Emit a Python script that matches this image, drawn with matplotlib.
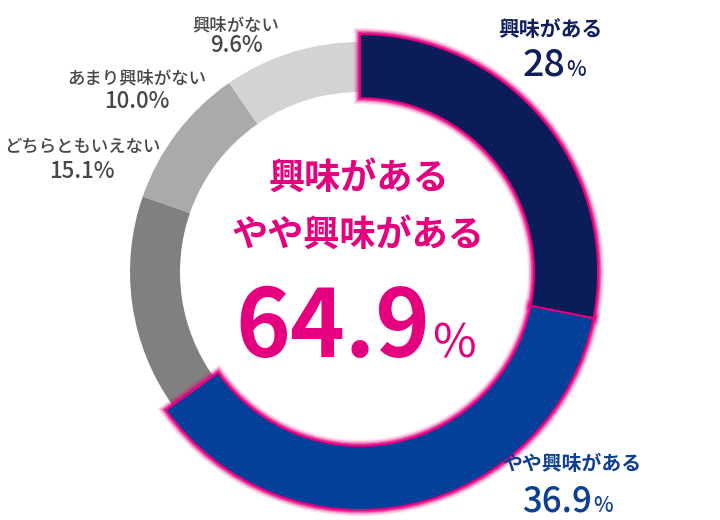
import matplotlib.pyplot as plt
from matplotlib.patches import Wedge

plt.rcParams['font.family'] = ['Noto Sans CJK JP', 'DejaVu Sans']

# answers, clockwise from 12 o'clock
labels = ["興味がある", "やや興味がある", "どちらともいえない", "あまり興味がない", "興味がない"]
values = [28.0, 36.9, 15.1, 10.0, 9.6]
value_texts = ["28", "36.9", "15.1", "10.0", "9.6"]
colors = ["#0b1c5a", "#044099", "#808080", "#aaaaaa", "#d3d3d3"]
highlight = [0, 1]

PINK = "#e4007f"
GRAY_TXT = "#474747"
TXT_COL = ["#0f1f5c", "#0d3f94"]

W, H = 720, 520
cx, cy = 360, H - 272


def py(y):
    # pixel row (from top) -> data y
    return H - y


fig = plt.figure(figsize=(7.2, 5.2), dpi=100)
ax = fig.add_axes([0, 0, 1, 1])

wedges, _ = ax.pie(values, colors=colors, startangle=90, counterclock=False,
                   radius=230, center=(cx, cy),
                   wedgeprops=dict(width=50, linewidth=0))

# the two "interested" answers are drawn bigger with a pink glow
for i in highlight:
    w = wedges[i]
    w.set_radius(238)
    w.set_width(64)
    w.set_zorder(4)
    w.set_edgecolor(PINK)
    w.set_linewidth(1.4)
    w.set_joinstyle('miter')
    for lw, a in [(9, 0.1), (7, 0.18), (5, 0.3), (3.5, 0.55)]:
        ax.add_patch(Wedge((cx, cy), 238, w.theta1, w.theta2, width=64,
                           facecolor='none', edgecolor=PINK, lw=lw, alpha=a,
                           joinstyle='miter', zorder=3))

ax.set_xlim(0, W)
ax.set_ylim(0, H)
ax.set_aspect('equal')
ax.axis('off')

# labels of the highlighted answers:
# (name x, name y, name size, number right edge, baseline, number size)
hl_pos = [(550, 30, 15, 565, 76, 27), (572, 463, 14.3, 592, 512, 25)]
for i, (x, yn, fn, xr, yb, fs) in zip(highlight, hl_pos):
    ax.text(x, py(yn), labels[i], ha='center', va='center', fontsize=fn,
            fontweight='bold', color=TXT_COL[i], zorder=6)
    ax.text(xr, py(yb), value_texts[i], ha='right', va='baseline', fontsize=fs,
            fontweight='medium', color=TXT_COL[i], zorder=6)
    ax.text(xr + 1, py(yb), "%", ha='left', va='baseline', fontsize=15,
            fontweight='medium', color=TXT_COL[i], zorder=6)

# gray labels: (x, name y, value y)
gray_pos = {2: (82, 147, 172), 3: (137, 78, 102), 4: (236, 25, 46)}
for i, (x, yn, yv) in gray_pos.items():
    ax.text(x, py(yn), labels[i], ha='center', va='center', fontsize=12.5,
            fontweight='medium', color=GRAY_TXT, zorder=6)
    ax.text(x, py(yv), value_texts[i] + "%", ha='center', va='center',
            fontsize=16, fontweight='medium', color=GRAY_TXT, zorder=6)

# centre summary
total = sum(values[i] for i in highlight)
ax.text(359, py(178), labels[0], ha='center', va='center', fontsize=26,
        fontweight='bold', color=PINK, zorder=6)
ax.text(358, py(235), labels[1], ha='center', va='center', fontsize=26,
        fontweight='bold', color=PINK, zorder=6)
ax.text(430, py(357), f"{total:.1f}", ha='right', va='baseline', fontsize=67,
        fontweight='bold', color=PINK, zorder=6)
ax.text(432, py(357), "%", ha='left', va='baseline', fontsize=34, color=PINK,
        zorder=6)

fig.savefig("out.png", dpi=100)
